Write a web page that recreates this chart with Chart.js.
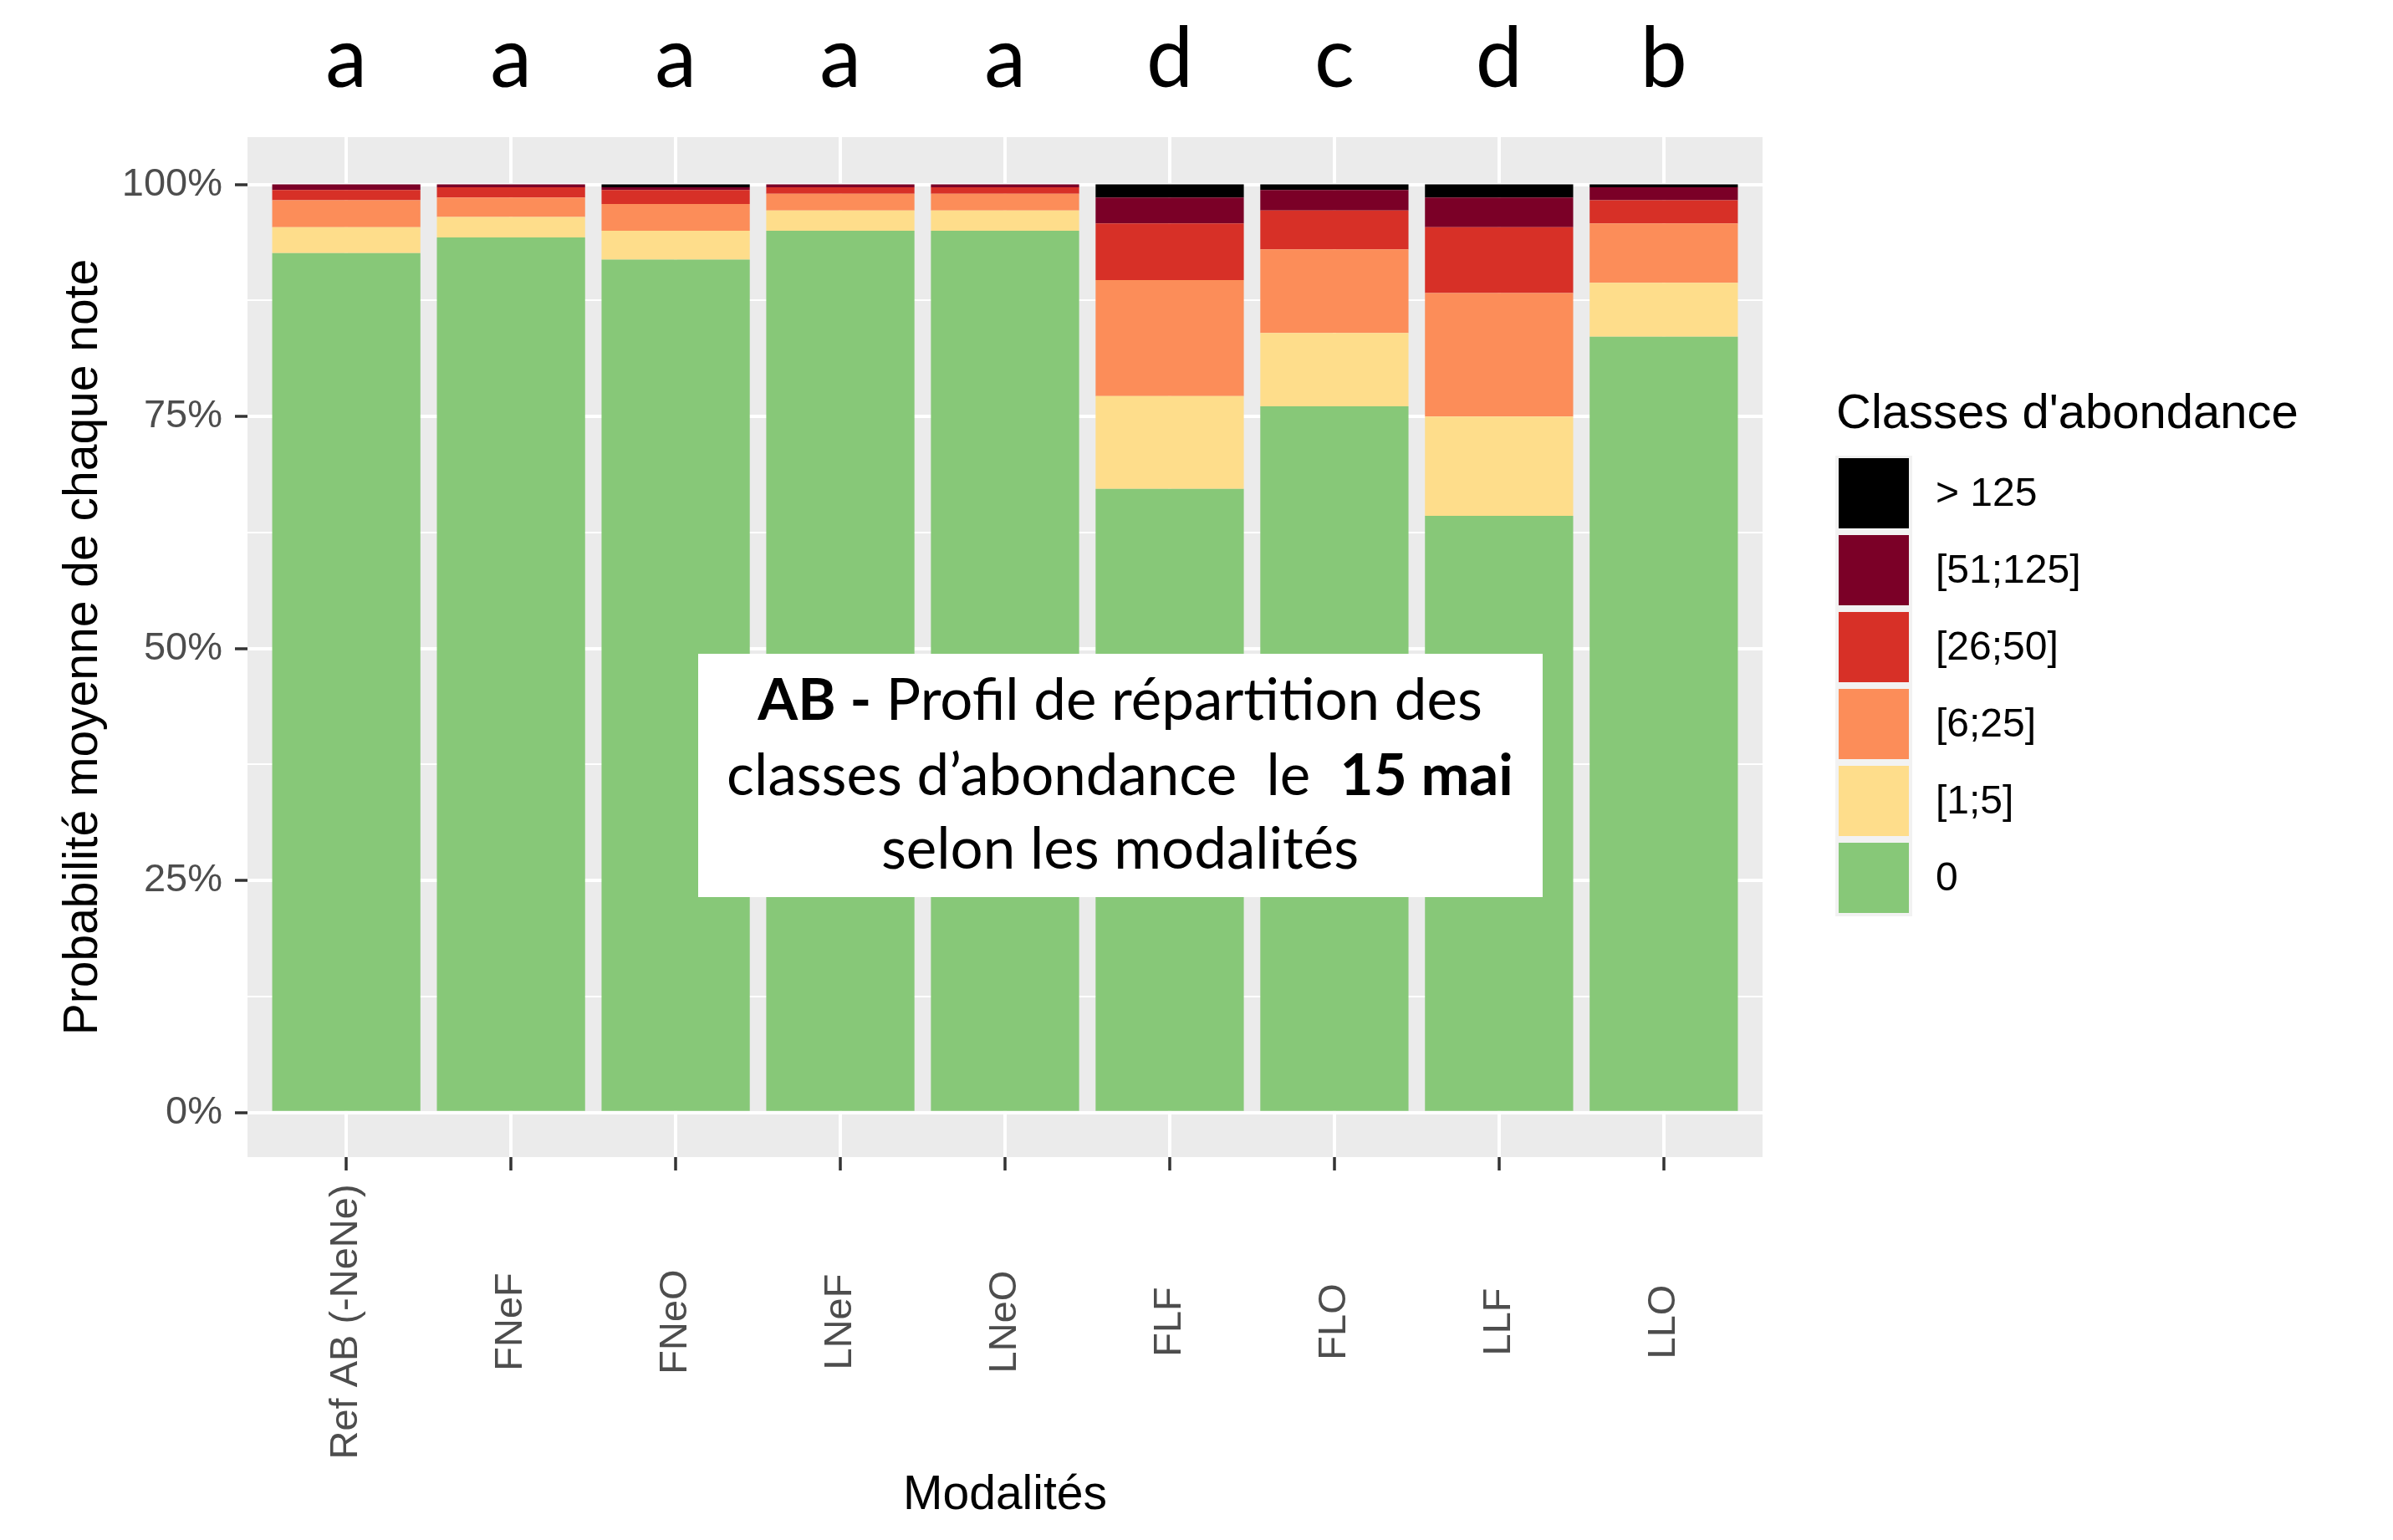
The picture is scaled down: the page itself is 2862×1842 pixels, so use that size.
<!DOCTYPE html>
<html lang="fr">
<head>
<meta charset="utf-8">
<title>Classes d'abondance AB - 15 mai</title>
<script src="https://cdn.jsdelivr.net/npm/chart.js@4.4.0/dist/chart.umd.min.js"></script>
<style>
  html, body { margin: 0; padding: 0; background: #fff; }
  #wrap { width: 2862px; height: 1842px; position: relative; }
</style>
</head>
<body>
<div id="wrap"><canvas id="graficoAbondance"></canvas></div>
<script>
// Modalités (axe x) et lettres de significativité
const modalites = ['Ref AB (-NeNe)', 'FNeF', 'FNeO', 'LNeF', 'LNeO', 'FLF', 'FLO', 'LLF', 'LLO'];
const lettres = ['a', 'a', 'a', 'a', 'a', 'd', 'c', 'd', 'b'];

// Classes d'abondance, du bas vers le haut de la pile
const classes = ['0', '[1;5]', '[6;25]', '[26;50]', '[51;125]', '> 125'];
const couleurs = ['#87C878', '#FEDD8B', '#FC8D59', '#D73027', '#7B0027', '#000000'];

// Probabilité moyenne (%)
const classe0 = [92.6, 94.3, 91.9, 95.0, 95.0, 67.2, 76.1, 64.3, 83.6];
const classe1a5 = [2.8, 2.2, 3.1, 2.2, 2.2, 10.0, 7.9, 10.7, 5.8];
const classe6a25 = [2.9, 2.1, 2.9, 1.8, 1.8, 12.5, 9.0, 13.3, 6.4];
const classe26a50 = [1.1, 1.1, 1.5, 0.7, 0.7, 6.1, 4.2, 7.1, 2.5];
const classe51a125 = [0.6, 0.3, 0.3, 0.3, 0.3, 2.8, 2.2, 3.2, 1.4];
const classeSup125 = [0, 0, 0.3, 0, 0, 1.4, 0.6, 1.4, 0.3];

// Graduations de l'axe y
const yMajeurs = [0, 25, 50, 75, 100];
const yMineurs = [12.5, 37.5, 62.5, 87.5];

const series = [classe0, classe1a5, classe6a25, classe26a50, classe51a125, classeSup125];
const POLICE = '"Liberation Sans", Arial, sans-serif';

const estMajeur = v => yMajeurs.includes(v);

// fond gris du panneau (ggplot)
const fondPanneau = {
  id: 'fondPanneau',
  beforeDraw(chart) {
    const { ctx, chartArea: a } = chart;
    ctx.save();
    ctx.fillStyle = '#EBEBEB';
    ctx.fillRect(a.left, a.top, a.right - a.left, a.bottom - a.top);
    ctx.restore();
  }
};

// étiquettes x verticales centrées, lettres, encadré et légende
const decor = {
  id: 'decor',
  afterDraw(chart) {
    const ctx = chart.ctx;
    const xs = chart.scales.x;
    ctx.save();

    // étiquettes des modalités
    ctx.fillStyle = '#4D4D4D';
    ctx.font = '47px ' + POLICE;
    ctx.textAlign = 'center';
    ctx.textBaseline = 'middle';
    modalites.forEach((m, i) => {
      ctx.save();
      ctx.translate(xs.getPixelForValue(i), 1581);
      ctx.rotate(-Math.PI / 2);
      ctx.fillText(m, 0, 0);
      ctx.restore();
    });

    // lettres en haut
    ctx.fillStyle = '#000';
    ctx.font = '100px Lato, "Open Sans", sans-serif';
    ctx.textBaseline = 'alphabetic';
    lettres.forEach((l, i) => {
      ctx.fillText(l, xs.getPixelForValue(i), 104);
    });

    // encadré blanc
    ctx.fillStyle = '#fff';
    ctx.fillRect(835, 782, 1010, 291);
    const lignes = [
      [['AB -', true], [' Profil de répartition des', false]],
      [['classes d’abondance  le  ', false], ['15 mai', true]],
      [['selon les modalités', false]]
    ];
    const baselines = [861, 951, 1039];
    const police = (b, s) => (b ? 'bold ' : '') + s + 'px Lato, "Open Sans", sans-serif';
    const largeur = (ligne, s) => ligne.reduce((w, [t, b]) => { ctx.font = police(b, s); return w + ctx.measureText(t).width; }, 0);
    const taille = 62 * 941 / largeur(lignes[1], 62);
    ctx.fillStyle = '#000';
    ctx.textAlign = 'left';
    lignes.forEach((ligne, k) => {
      let x = 1339.5 - largeur(ligne, taille) / 2;
      ligne.forEach(([t, b]) => {
        ctx.font = police(b, taille);
        ctx.fillText(t, x, baselines[k]);
        x += ctx.measureText(t).width;
      });
    });

    // légende
    ctx.font = '58px ' + POLICE;
    ctx.fillText("Classes d'abondance", 2196, 512);
    ctx.fillStyle = '#F2F2F2';
    ctx.fillRect(2195, 545, 92, 551);
    ctx.font = '48px ' + POLICE;
    ctx.textBaseline = 'middle';
    const ds = chart.data.datasets.slice().reverse();
    ds.forEach((d, k) => {
      const haut = 548 + k * 92;
      ctx.fillStyle = d.backgroundColor;
      ctx.fillRect(2199, haut, 84, 84);
      ctx.fillStyle = '#000';
      ctx.fillText(d.label, 2315, haut + 44);
    });
    ctx.restore();
  }
};

const ctxAb = document.getElementById('graficoAbondance').getContext('2d');

new Chart(ctxAb, {
  type: 'bar',
  data: {
    datasets: classes.map((c, k) => ({
      label: c,
      data: series[k].map((v, i) => ({ x: i, y: v })),
      backgroundColor: couleurs[k],
      borderWidth: 0,
      barPercentage: 0.9,
      categoryPercentage: 1.0
    }))
  },
  options: {
    responsive: true,
    maintainAspectRatio: false,
    animation: false,
    layout: { padding: { top: 164, right: 754, bottom: 0, left: 0 } },
    plugins: {
      legend: { display: false },
      tooltip: { enabled: false }
    },
    scales: {
      x: {
        type: 'linear',
        stacked: true,
        offset: false,
        min: -0.6,
        max: 8.6,
        afterBuildTicks: axis => { axis.ticks = modalites.map((m, i) => ({ value: i })); },
        afterFit: s => { s.height = 458; },
        ticks: { display: false },
        grid: {
          offset: false,
          color: '#FFFFFF',
          lineWidth: 4,
          drawTicks: true,
          tickLength: 16,
          tickColor: '#333333',
          tickWidth: 3.5
        },
        border: { display: false },
        title: {
          display: true,
          text: 'Modalités',
          color: '#000',
          font: { family: POLICE, size: 57 },
          padding: { top: 0, bottom: 19 }
        }
      },
      y: {
        stacked: true,
        min: -4.8,
        max: 105.1,
        afterBuildTicks: axis => {
          axis.ticks = yMajeurs.concat(yMineurs).sort((a, b) => a - b).map(v => ({ value: v }));
        },
        afterFit: s => { s.width = 296; },
        ticks: {
          callback: v => estMajeur(v) ? v + '%' : '',
          color: '#4D4D4D',
          font: { family: POLICE, size: 47 },
          padding: 15
        },
        grid: {
          color: '#FFFFFF',
          lineWidth: c => c.tick && estMajeur(c.tick.value) ? 4 : 2,
          drawTicks: true,
          tickLength: 15,
          tickColor: c => c.tick && estMajeur(c.tick.value) ? '#333333' : 'rgba(0,0,0,0)',
          tickWidth: 3.5
        },
        border: { display: false },
        title: {
          display: true,
          text: 'Probabilité moyenne de chaque note',
          color: '#000',
          font: { family: POLICE, size: 57 },
          padding: { top: 66, bottom: 0 }
        }
      }
    }
  },
  plugins: [fondPanneau, decor]
});
</script>
</body>
</html>
